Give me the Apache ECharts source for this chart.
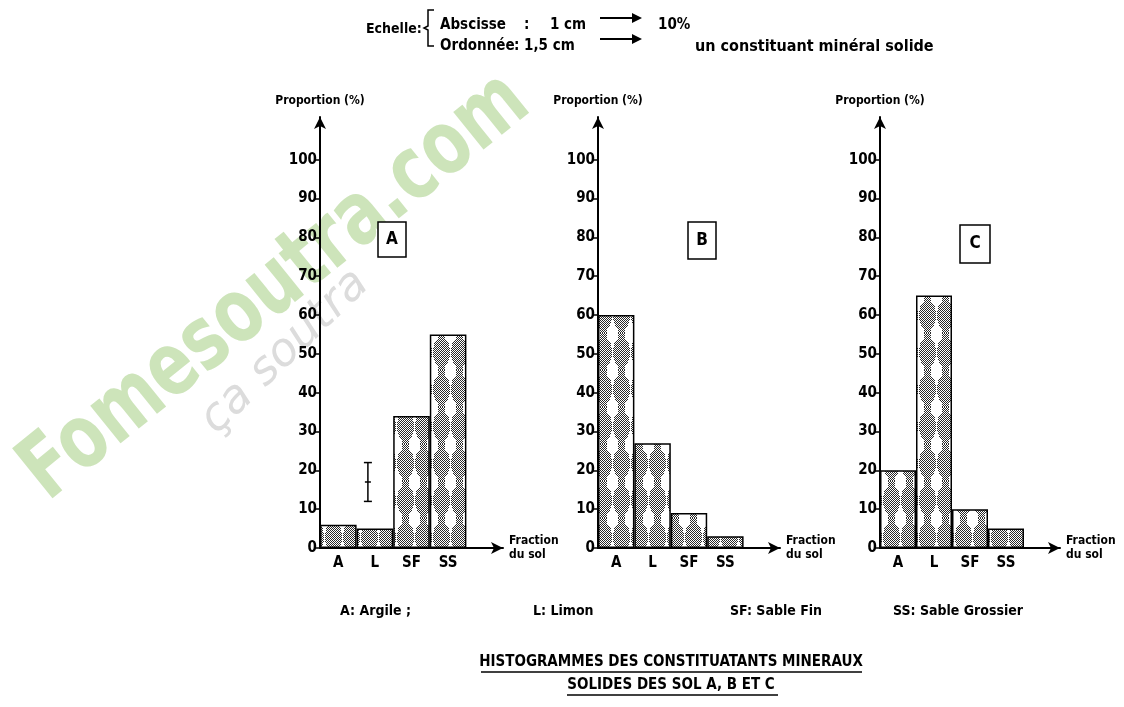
<!DOCTYPE html>
<html>
<head>
<meta charset="utf-8">
<script src="https://cdn.jsdelivr.net/npm/echarts@6/dist/echarts.min.js"></script>
<style>
  html, body { margin: 0; padding: 0; background: #fff; }
  #chart { width: 1124px; height: 707px; }
</style>
</head>
<body>
<div id="chart"></div>
<script>
// fractions du sol (la 5e case vide laisse la place a la fleche de l'axe)
var fractions = ['A', 'L', 'SF', 'SS', '']
var solA = [6, 5, 34, 55]
var solB = [60, 27, 9, 3]
var solC = [20, 65, 10, 5]
var yTicks = [0, 10, 20, 30, 40, 50, 60, 70, 80, 90, 100]
var scaleMark = [12, 22] // petit repere vertical dans le graphe A

var NARROW = "'Liberation Sans Narrow', 'DejaVu Sans Condensed', sans-serif"
var SANS = "'DejaVu Sans', sans-serif"

// motif pointille des barres
function makePattern () {
  var c = document.createElement('canvas')
  c.width = 18
  c.height = 37
  var ctx = c.getContext('2d')
  ctx.fillStyle = '#fff'
  ctx.fillRect(0, 0, c.width, c.height)
  ctx.fillStyle = '#2a2a2a'
  for (var y = 0; y < c.height; y++) {
    for (var x = 0; x < c.width; x++) {
      if ((x + y) % 2) continue
      var dx = (x - 9) / 8.5
      var dy = (y - 18.5) / 15
      var inBlob = dx * dx + dy * dy <= 1
      var inStrip = Math.abs(x - 9) <= 3
      if (inBlob || inStrip) ctx.fillRect(x, y, 1, 1)
    }
  }
  return c
}
var pattern = { image: makePattern(), repeat: 'repeat' }

var grids = [
  { left: 320, top: 117, width: 183, height: 431 },
  { left: 598, top: 117, width: 182, height: 431 },
  { left: 880, top: 117, width: 180, height: 431 }
]

function xAxisFor (i) {
  return {
    type: 'category',
    gridIndex: i,
    data: fractions,
    boundaryGap: true,
    axisLine: { show: true, symbol: ['none', 'arrow'], symbolSize: [9, 12], lineStyle: { color: '#000', width: 2 } },
    axisTick: { show: false },
    axisLabel: { color: '#000', fontFamily: NARROW, fontWeight: 'bold', fontSize: 15, margin: 8 },
    name: 'Fraction\ndu sol',
    nameLocation: 'end',
    nameGap: 6,
    nameTextStyle: { color: '#000', fontFamily: NARROW, fontWeight: 'bold', fontSize: 12, lineHeight: 14, align: 'left', verticalAlign: 'middle' }
  }
}

function yAxisFor (i) {
  return {
    type: 'value',
    gridIndex: i,
    min: 0,
    max: 111,
    interval: 10,
    splitLine: { show: false },
    axisLine: { show: true, symbol: ['none', 'arrow'], symbolSize: [9, 12], lineStyle: { color: '#000', width: 2 } },
    axisTick: { show: true, inside: false, length: 6, customValues: yTicks, lineStyle: { color: '#000', width: 1.5 } },
    axisLabel: {
      color: '#000', fontFamily: NARROW, fontWeight: 'bold', fontSize: 15, margin: 3,
      customValues: yTicks,
      formatter: function (v) { return v > 100 ? '' : v }
    },
    name: 'Proportion (%)',
    nameLocation: 'end',
    nameGap: 10,
    nameTextStyle: { color: '#000', fontFamily: NARROW, fontWeight: 'bold', fontSize: 12 }
  }
}

function barSeries (i, data) {
  return {
    type: 'bar',
    xAxisIndex: i,
    yAxisIndex: i,
    data: data,
    barCategoryGap: 0,
    z: 3,
    itemStyle: { color: pattern, borderColor: '#000', borderWidth: 1.5 },
    emphasis: { disabled: true }
  }
}

function txt (x, y, text, size, extra) {
  var style = { text: text, fill: '#000', font: 'bold ' + size + 'px ' + NARROW, textVerticalAlign: 'middle' }
  for (var k in (extra || {})) style[k] = extra[k]
  return { type: 'text', left: x, top: y, style: style }
}

function arrow (x1, x2, y) {
  return {
    type: 'group',
    children: [
      { type: 'line', shape: { x1: x1, y1: y, x2: x2 - 8, y2: y }, style: { stroke: '#000', lineWidth: 2 } },
      { type: 'polygon', shape: { points: [[x2 - 10, y - 5], [x2, y], [x2 - 10, y + 5]] }, style: { fill: '#000' } }
    ]
  }
}

function boxLabel (x, y, w, h, letter) {
  return {
    type: 'group',
    children: [
      { type: 'rect', shape: { x: x, y: y, width: w, height: h }, style: { fill: '#fff', stroke: '#000', lineWidth: 1.5 } },
      { type: 'text', style: { x: x + w / 2, y: y + h / 2, text: letter, fill: '#000', font: 'bold 17px ' + NARROW, textAlign: 'center', textVerticalAlign: 'middle' } }
    ]
  }
}

var chart = echarts.init(document.getElementById('chart'))

chart.setOption({
  backgroundColor: '#fff',
  animation: false,
  grid: grids,
  xAxis: [xAxisFor(0), xAxisFor(1), xAxisFor(2)],
  yAxis: [yAxisFor(0), yAxisFor(1), yAxisFor(2)],
  series: [
    barSeries(0, solA),
    barSeries(1, solB),
    barSeries(2, solC),
    {
      type: 'custom',
      xAxisIndex: 0,
      yAxisIndex: 0,
      data: [[1, scaleMark[0], scaleMark[1]]],
      renderItem: function (params, api) {
        var lo = api.coord([api.value(0), api.value(1)])
        var hi = api.coord([api.value(0), api.value(2)])
        var x = lo[0] - 7
        var mid = (lo[1] + hi[1]) / 2
        var s = { stroke: '#000', lineWidth: 1.5 }
        return {
          type: 'group',
          children: [
            { type: 'line', shape: { x1: x, y1: hi[1], x2: x, y2: lo[1] }, style: s },
            { type: 'line', shape: { x1: x - 4, y1: hi[1], x2: x + 4, y2: hi[1] }, style: s },
            { type: 'line', shape: { x1: x - 4, y1: lo[1], x2: x + 4, y2: lo[1] }, style: s },
            { type: 'line', shape: { x1: x - 3, y1: mid, x2: x + 3, y2: mid }, style: s }
          ]
        }
      }
    }
  ],
  graphic: [
    // filigrane
    {
      type: 'text', z: -10, x: 276, y: 288, rotation: 0.68, scaleX: 0.84,
      style: { text: 'Fomesoutra.com', fill: '#cde4ba', font: 'bold 88px ' + NARROW, textAlign: 'center', textVerticalAlign: 'middle' }
    },
    {
      type: 'text', z: -10, x: 285, y: 352, rotation: 0.77,
      style: { text: 'ça soutra', fill: '#dcdcdc', font: 'italic 46px ' + SANS, textAlign: 'center', textVerticalAlign: 'middle' }
    },
    // echelle
    txt(366, 22, 'Echelle:', 14),
    {
      type: 'polyline',
      shape: { points: [[434, 10], [428, 10], [428, 26], [424, 28], [428, 30], [428, 46], [434, 46]] },
      style: { stroke: '#000', lineWidth: 1.5, fill: null }
    },
    txt(440, 18, 'Abscisse', 15),
    txt(524, 18, ':', 15),
    txt(550, 18, '1 cm', 15),
    arrow(600, 642, 18),
    txt(658, 18, '10%', 15),
    txt(440, 39, 'Ordonnée', 15),
    txt(514, 39, ': 1,5 cm', 15),
    arrow(600, 642, 39),
    txt(695, 39, 'un constituant minéral solide', 16),
    // etiquettes des sols
    boxLabel(378, 222, 28, 35, 'A'),
    boxLabel(688, 222, 28, 37, 'B'),
    boxLabel(960, 225, 30, 38, 'C'),
    // legende
    txt(340, 604, 'A: Argile ;', 14),
    txt(533, 604, 'L: Limon', 14),
    txt(730, 604, 'SF: Sable Fin', 14),
    txt(893, 604, 'SS: Sable Grossier', 14),
    // titre
    {
      type: 'text', x: 671, y: 662,
      style: { text: 'HISTOGRAMMES DES CONSTITUATANTS MINERAUX', fill: '#000', font: 'bold 15px ' + NARROW, textAlign: 'center', textVerticalAlign: 'middle' }
    },
    { type: 'line', shape: { x1: 481, y1: 672, x2: 862, y2: 672 }, style: { stroke: '#000', lineWidth: 1.5 } },
    {
      type: 'text', x: 671, y: 685,
      style: { text: 'SOLIDES DES SOL A, B ET C', fill: '#000', font: 'bold 15px ' + NARROW, textAlign: 'center', textVerticalAlign: 'middle' }
    },
    { type: 'line', shape: { x1: 567, y1: 695, x2: 778, y2: 695 }, style: { stroke: '#000', lineWidth: 1.5 } }
  ]
})
</script>
</body>
</html>
